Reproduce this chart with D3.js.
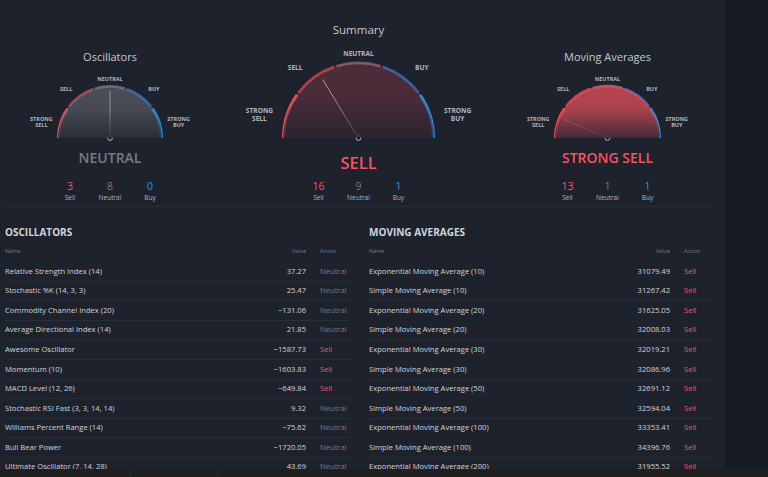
<!DOCTYPE html>
<html><head><meta charset="utf-8">
<script src="https://cdn.jsdelivr.net/npm/d3@7"></script>
<style>html,body{margin:0;padding:0;background:#1e222d;overflow:hidden}svg{display:block}text{font-family:"Open Sans",sans-serif}</style>
</head><body><svg id="c" width="768" height="477"></svg>
<script>
// ---- data ----
const gaugeTitles = ["Oscillators", "Summary", "Moving Averages"];
const gaugeRatings = ["NEUTRAL", "SELL", "STRONG SELL"];
const gaugeNeedles = [0, -0.35, -0.74];
const sellCounts = [3, 16, 13];
const neutralCounts = [8, 9, 1];
const buyCounts = [0, 1, 1];
const zoneLabels = [["STRONG", "SELL"], ["SELL"], ["NEUTRAL"], ["BUY"], ["STRONG", "BUY"]];
const countLabels = ["Sell", "Neutral", "Buy"];

const oscNames = ["Relative Strength Index (14)", "Stochastic %K (14, 3, 3)", "Commodity Channel Index (20)", "Average Directional Index (14)", "Awesome Oscillator", "Momentum (10)", "MACD Level (12, 26)", "Stochastic RSI Fast (3, 3, 14, 14)", "Williams Percent Range (14)", "Bull Bear Power", "Ultimate Oscillator (7, 14, 28)"];
const oscValues = [37.27, 25.47, -131.06, 21.85, -1587.73, -1603.83, -649.84, 9.32, -75.62, -1720.05, 43.69];
const oscActions = ["Neutral", "Neutral", "Neutral", "Neutral", "Sell", "Sell", "Sell", "Neutral", "Neutral", "Neutral", "Neutral"];

const maNames = ["Exponential Moving Average (10)", "Simple Moving Average (10)", "Exponential Moving Average (20)", "Simple Moving Average (20)", "Exponential Moving Average (30)", "Simple Moving Average (30)", "Exponential Moving Average (50)", "Simple Moving Average (50)", "Exponential Moving Average (100)", "Simple Moving Average (100)", "Exponential Moving Average (200)"];
const maValues = [31079.49, 31267.42, 31625.05, 32008.03, 32019.21, 32086.96, 32691.12, 32594.04, 33353.41, 34396.76, 31955.52];
const maActions = ["Sell", "Sell", "Sell", "Sell", "Sell", "Sell", "Sell", "Sell", "Sell", "Sell", "Sell"];

// ---- styles ----
const RED = "#f7525f", BLUE = "#2196f3", GREY = "#787b86", TXT = "#d1d4dc", TXT2 = "#b2b5be";
const segColors = ["#f7525f", "#a13e49", "#5d606b", "#1f62ac", "#2196f3"];
const ratingStyle = {
  "NEUTRAL": {color: GREY, fill: "#787b86", op: 0.5},
  "SELL": {color: RED, fill: "#f7525f", op: 0.22},
  "STRONG SELL": {color: RED, fill: "#f7525f", op: 0.72}
};

const svg = d3.select("#c");
const W = 768, H = 477;
const defs = svg.append("defs");
svg.append("rect").attr("width", W).attr("height", H).attr("fill", "#1e222d");
svg.append("rect").attr("x", 725).attr("width", W - 725).attr("height", H).attr("fill", "#171b26");

// ---- gauges ----
const G = [
  {cx: 110, cy: 138, r: 53, titleY: 57, titleSize: 11, ratingY: 158, ratingSize: 14, lab: 5.5},
  {cx: 358.5, cy: 138, r: 76.5, titleY: 30, titleSize: 11.5, ratingY: 163, ratingSize: 16.5, lab: 6.6},
  {cx: 607.5, cy: 138, r: 53.5, titleY: 57, titleSize: 11, ratingY: 158, ratingSize: 14, lab: 5.5}
];
const angle = d3.scaleLinear().domain([-1, 1]).range([-Math.PI / 2, Math.PI / 2]);
const zoneScale = d3.scaleBand().domain(d3.range(5)).range([-Math.PI / 2, Math.PI / 2]);
const labAng = [-Math.PI / 2 + 0.23, -Math.PI / 2 + 0.84, 0, Math.PI / 2 - 0.84, Math.PI / 2 - 0.23];
const labR = [1.33, 1.24, 1.11, 1.24, 1.33];

G.forEach((g, i) => {
  const st = ratingStyle[gaugeRatings[i]];
  const grp = svg.append("g").attr("transform", `translate(${g.cx},${g.cy})`);
  const gid = "rg" + i;
  const rg = defs.append("radialGradient").attr("id", gid).attr("gradientUnits", "userSpaceOnUse")
    .attr("cx", g.cx).attr("cy", g.cy).attr("r", g.r);
  rg.append("stop").attr("offset", 0).attr("stop-color", st.fill).attr("stop-opacity", 0);
  rg.append("stop").attr("offset", 0.45).attr("stop-color", st.fill).attr("stop-opacity", st.op * 0.12);
  rg.append("stop").attr("offset", 1).attr("stop-color", st.fill).attr("stop-opacity", st.op);
  const lg = defs.append("linearGradient").attr("id", "lg" + i).attr("x1", 0).attr("y1", 0).attr("x2", 0).attr("y2", 1);
  lg.append("stop").attr("offset", 0).attr("stop-color", "#1e222d").attr("stop-opacity", 0);
  lg.append("stop").attr("offset", 0.45).attr("stop-color", "#1e222d").attr("stop-opacity", 0.1);
  lg.append("stop").attr("offset", 1).attr("stop-color", "#1e222d").attr("stop-opacity", 0.75);

  const half = d3.arc().innerRadius(0).outerRadius(g.r - 1).startAngle(-Math.PI / 2).endAngle(Math.PI / 2);
  svg.append("path").attr("transform", `translate(${g.cx},${g.cy})`).attr("d", half()).attr("fill", `url(#${gid})`);
  svg.append("path").attr("transform", `translate(${g.cx},${g.cy})`).attr("d", half()).attr("fill", `url(#lg${i})`);

  const gap = 1.2 / g.r;
  const seg = d3.arc().innerRadius(g.r - 2.8).outerRadius(g.r);
  d3.range(5).forEach(k => {
    grp.append("path").attr("d", seg({startAngle: zoneScale(k) + (k === 0 ? 0 : gap), endAngle: zoneScale(k) + zoneScale.bandwidth() - (k === 4 ? 0 : gap)}))
      .attr("fill", segColors[k]);
  });

  // zone labels
  zoneLabels.forEach((lines, k) => {
    const a = labAng[k], rr = g.r * labR[k];
    const x = rr * Math.sin(a), y = -rr * Math.cos(a);
    const t = grp.append("text").attr("x", x).attr("y", y).attr("text-anchor", "middle")
      .attr("font-size", g.lab).attr("font-weight", 700).attr("fill", TXT2);
    lines.forEach((l, j) => {
      t.append("tspan").attr("x", x).attr("dy", j === 0 ? (lines.length > 1 ? -g.lab * 0.22 : g.lab * 0.38) : g.lab * 1.22).text(l);
    });
  });

  // needle
  const a = angle(gaugeNeedles[i]);
  const L = g.r * 0.895, s0 = 4;
  grp.append("line")
    .attr("x1", s0 * Math.sin(a)).attr("y1", -s0 * Math.cos(a))
    .attr("x2", L * Math.sin(a)).attr("y2", -L * Math.cos(a))
    .attr("stroke", "#b2b5be").attr("stroke-width", 1);
  grp.append("circle").attr("r", 2.4).attr("fill", "#1e222d").attr("stroke", "#b2b5be").attr("stroke-width", 1);

  // title
  svg.append("text").attr("x", g.cx).attr("y", g.titleY + g.titleSize * 0.35).attr("text-anchor", "middle")
    .attr("font-size", g.titleSize).attr("fill", "#c5c8d0").text(gaugeTitles[i]);
  // rating
  svg.append("text").attr("x", g.cx).attr("y", g.ratingY + g.ratingSize * 0.36).attr("text-anchor", "middle")
    .attr("font-size", g.ratingSize).attr("font-weight", 600).attr("fill", st.color).text(gaugeRatings[i]);
  // counts
  const counts = [sellCounts[i], neutralCounts[i], buyCounts[i]];
  const cc = [RED, GREY, BLUE];
  const cx = d3.scalePoint().domain(countLabels).range([g.cx - 40, g.cx + 40]);
  countLabels.forEach((lab, k) => {
    svg.append("text").attr("x", cx(lab)).attr("y", 186 + 3.8).attr("text-anchor", "middle")
      .attr("font-size", 10.5).attr("font-weight", 500).attr("fill", cc[k]).text(counts[k]);
    svg.append("text").attr("x", cx(lab)).attr("y", 197.5 + 2.3).attr("text-anchor", "middle")
      .attr("font-size", 6.5).attr("fill", TXT2).text(lab);
  });
});

svg.append("line").attr("x1", 5).attr("x2", 713).attr("y1", 206.5).attr("y2", 206.5).attr("stroke", "#2a2e39");

// ---- tables ----
const rowY = d3.scaleLinear().domain([0, oscNames.length - 1]).range([271, 466.5]);
const fmt = v => (v < 0 ? "\u2212" : "") + d3.format(".2f")(Math.abs(v));

function table(x0, x1, valX, actX, title, names, values, actions, lineEvery) {
  const g = svg.append("g");
  g.append("text").attr("x", x0).attr("y", 232 + 3.6).attr("font-size", 10).attr("font-weight", 700).attr("fill", TXT).text(title);
  g.append("text").attr("x", x0).attr("y", 251 + 2).attr("font-size", 5.5).attr("fill", GREY).text("Name");
  g.append("text").attr("x", valX).attr("y", 251 + 2).attr("font-size", 5.5).attr("fill", GREY).attr("text-anchor", "end").text("Value");
  g.append("text").attr("x", actX).attr("y", 251 + 2).attr("font-size", 5.5).attr("fill", GREY).text("Action");
  names.forEach((n, k) => {
    const y = rowY(k);
    g.append("text").attr("x", x0).attr("y", y + 2.8).attr("font-size", 7.6).attr("font-weight", 500).attr("fill", TXT).text(n);
    g.append("text").attr("x", valX).attr("y", y + 2.8).attr("font-size", 7.6).attr("font-weight", 500).attr("fill", TXT).attr("text-anchor", "end").text(fmt(values[k]));
    g.append("text").attr("x", actX).attr("y", y + 2.8).attr("font-size", 7.6).attr("font-weight", 500).attr("fill", actions[k] === "Sell" ? RED : GREY).text(actions[k]);
    if (k % lineEvery === lineEvery - 1 && k < names.length - 1) {
      const ly = Math.round(y + rowY(1) / 2 - rowY(0) / 2) + 0.5;
      g.append("line").attr("x1", x0).attr("x2", x1).attr("y1", ly).attr("y2", ly).attr("stroke", "#2a2e39");
    }
  });
}
table(5, 350, 306, 320, "OSCILLATORS", oscNames, oscValues, oscActions, 1);
table(369, 713, 670, 684, "MOVING AVERAGES", maNames, maValues, maActions, 2);

// bottom band
svg.append("rect").attr("y", 469).attr("width", W).attr("height", H - 469).attr("fill", "#1f1f1f");
[130, 217].forEach(x => svg.append("line").attr("x1", x + 0.5).attr("x2", x + 0.5).attr("y1", 469).attr("y2", H).attr("stroke", "#1f3326"));
</script></body></html>
